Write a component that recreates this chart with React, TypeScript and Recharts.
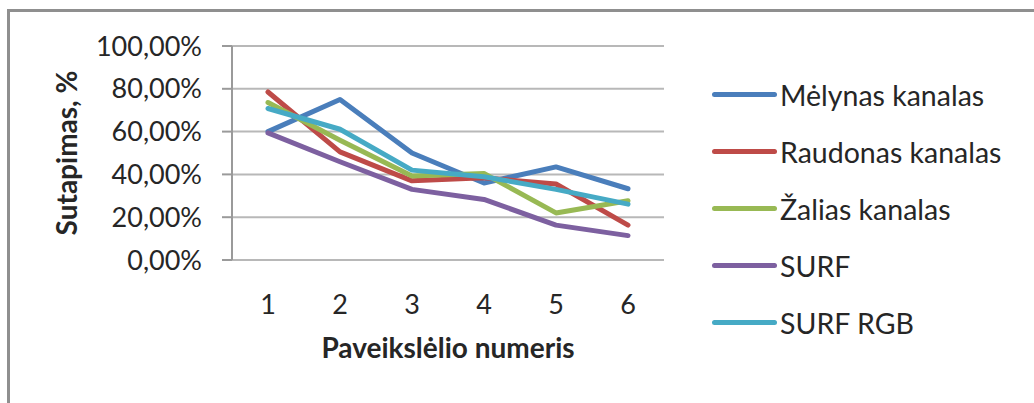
import React from "react";
import { LineChart, Line, XAxis, YAxis, CartesianGrid, Legend, Label } from "recharts";

const images = [1, 2, 3, 4, 5, 6];
const melynas = [0.6, 0.75, 0.5, 0.36, 0.435, 0.333];
const raudonas = [0.785, 0.505, 0.37, 0.384, 0.355, 0.163];
const zalias = [0.736, 0.56, 0.393, 0.404, 0.22, 0.277];
const surf = [0.594, 0.459, 0.33, 0.283, 0.163, 0.114];
const surfRgb = [0.708, 0.611, 0.42, 0.389, 0.33, 0.261];
const yTicks = [0, 0.2, 0.4, 0.6, 0.8, 1];
// category boundaries, where the x axis tick marks sit
const xBoundaries = [0.5, 1.5, 2.5, 3.5, 4.5, 5.5, 6.5];

const series = [
  { key: "melynas", name: "Mėlynas kanalas", color: "#4a7ebb", values: melynas },
  { key: "raudonas", name: "Raudonas kanalas", color: "#be4b48", values: raudonas },
  { key: "zalias", name: "Žalias kanalas", color: "#98b954", values: zalias },
  { key: "surf", name: "SURF", color: "#7d60a0", values: surf },
  { key: "surfRgb", name: "SURF RGB", color: "#46aac5", values: surfRgb },
];

const data = images.map((img, i) => {
  const row: Record<string, number> = { img };
  series.forEach((s) => (row[s.key] = s.values[i]));
  return row;
});

const FONT = "Lato, 'Open Sans', sans-serif";
const TEXT = "#262626";
const AXIS = "#9a9a9a";

const pct = (v: number) => (v * 100).toFixed(2).replace(".", ",") + "%";

// legend rows kept in series order
function LegendBox() {
  return (
    <div style={{ fontFamily: FONT, fontSize: 28.5, color: TEXT }}>
      {series.map((s) => (
        <div key={s.key} style={{ display: "flex", alignItems: "center", height: 57 }}>
          <div style={{ width: 65, height: 5, borderRadius: 3, background: s.color }} />
          <span style={{ marginLeft: 3, whiteSpace: "nowrap" }}>{s.name}</span>
        </div>
      ))}
    </div>
  );
}

export default function App() {
  return (
    <div
      style={{
        position: "absolute",
        left: 0,
        top: 0,
        width: 1034,
        height: 403,
        overflow: "hidden",
        background: "#fff",
      }}
    >
      <div
        style={{
          position: "absolute",
          left: 7,
          top: 9,
          width: 1100,
          height: 500,
          borderTop: "3px solid #8f8f8f",
          borderLeft: "3px solid #8f8f8f",
        }}
      />
      <div style={{ position: "absolute", left: 0, top: 0 }}>
        <LineChart width={1034} height={403} data={data} margin={{ top: 46, right: 370, bottom: 0, left: 0 }}>
          <CartesianGrid vertical={false} stroke="#b8b8b8" strokeWidth={2} />
          <XAxis
            xAxisId="marks"
            dataKey="img"
            type="number"
            domain={[0.5, 6.5]}
            ticks={xBoundaries}
            height={0}
            tick={false}
            tickSize={8}
            tickLine={{ stroke: AXIS, strokeWidth: 2 }}
            axisLine={{ stroke: AXIS, strokeWidth: 2 }}
          />
          <XAxis
            dataKey="img"
            type="number"
            domain={[0.5, 6.5]}
            ticks={images}
            height={143}
            axisLine={false}
            tickLine={false}
            tickSize={8}
            tickMargin={27}
            tick={{ fontSize: 27, fill: TEXT, fontFamily: FONT }}
          >
            <Label
              value="Paveikslėlio numeris"
              position="insideBottom"
              offset={45}
              style={{ fontSize: 28, fontWeight: 700, fill: TEXT, fontFamily: FONT }}
            />
          </XAxis>
          <YAxis
            type="number"
            domain={[0, 1]}
            ticks={yTicks}
            width={232}
            tickFormatter={pct}
            tickSize={10}
            tickMargin={20}
            tickLine={{ stroke: AXIS, strokeWidth: 2 }}
            axisLine={{ stroke: AXIS, strokeWidth: 2 }}
            tick={{ fontSize: 27, fill: TEXT, fontFamily: FONT }}
          >
            <Label
              value="Sutapimas, %"
              angle={-90}
              position="insideLeft"
              offset={67}
              style={{ fontSize: 28, fontWeight: 700, fill: TEXT, fontFamily: FONT, textAnchor: "middle" }}
            />
          </YAxis>
          <Legend
            layout="horizontal"
            align="center"
            verticalAlign="middle"
            wrapperStyle={{ left: 712, top: 66, width: 320 }}
            content={<LegendBox />}
          />
          {series.map((s) => (
            <Line
              key={s.key}
              dataKey={s.key}
              name={s.name}
              stroke={s.color}
              strokeWidth={5}
              strokeLinecap="round"
              strokeLinejoin="round"
              dot={false}
              activeDot={false}
              type="linear"
              isAnimationActive={false}
            />
          ))}
        </LineChart>
      </div>
    </div>
  );
}
